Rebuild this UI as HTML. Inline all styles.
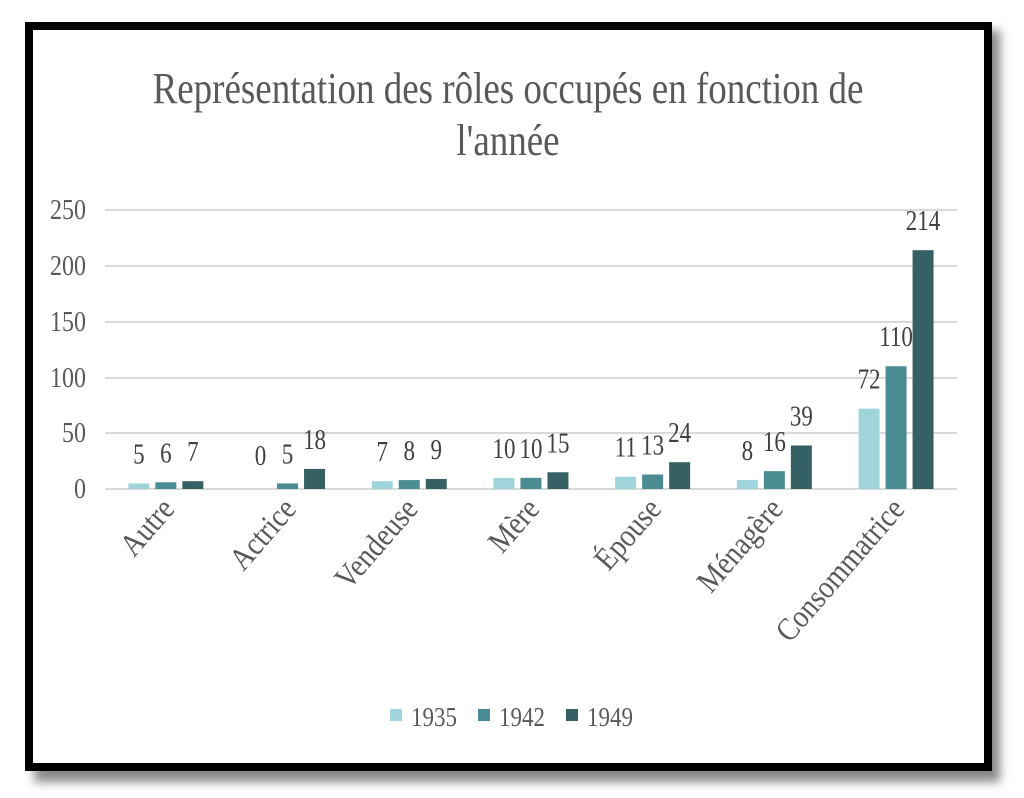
<!DOCTYPE html>
<html><head><meta charset="utf-8"><style>
html,body{margin:0;padding:0;background:#fff;}
svg{display:block;}
text{font-family:"Liberation Serif",serif;}
</style></head><body>
<svg width="1024" height="798" viewBox="0 0 1024 798" xmlns="http://www.w3.org/2000/svg">
<defs><filter id="sh" x="-5%" y="-5%" width="110%" height="115%"><feGaussianBlur stdDeviation="5"/></filter></defs>
<rect x="34" y="30" width="966" height="752" fill="#888" filter="url(#sh)"/>
<rect x="29" y="26" width="959" height="741" fill="#fff" stroke="#000" stroke-width="8"/>
<text transform="translate(508,103) scale(1,1.2)" font-size="37" fill="#595959" text-anchor="middle">Représentation des rôles occupés en fonction de</text>
<text transform="translate(508,155) scale(1,1.2)" font-size="37" fill="#595959" text-anchor="middle">l'année</text>
<g stroke="#d9d9d9" stroke-width="2">
<line x1="105" x2="957" y1="210" y2="210"/><line x1="105" x2="957" y1="266" y2="266"/>
<line x1="105" x2="957" y1="322" y2="322"/><line x1="105" x2="957" y1="378" y2="378"/>
<line x1="105" x2="957" y1="433" y2="433"/><line x1="105" x2="957" y1="489" y2="489"/>
</g>
<g font-size="24" fill="#595959" text-anchor="end">
<text transform="translate(86,219) scale(1,1.2)">250</text><text transform="translate(86,275) scale(1,1.2)">200</text><text transform="translate(86,331) scale(1,1.2)">150</text>
<text transform="translate(86,387) scale(1,1.2)">100</text><text transform="translate(86,442) scale(1,1.2)">50</text><text transform="translate(86,498) scale(1,1.2)">0</text>
</g>
<g id="bars"></g>
<g font-size="23" fill="#404040" text-anchor="middle" id="lbl"></g>
<g font-size="28" fill="#595959" text-anchor="end" id="xl"></g>
<rect x="390" y="709" width="12" height="12" fill="#9fd4db"/>
<text transform="translate(411,726) scale(1,1.2)" font-size="23" fill="#595959">1935</text>
<rect x="478" y="709" width="12" height="12" fill="#4a8c92"/>
<text transform="translate(499,726) scale(1,1.2)" font-size="23" fill="#595959">1942</text>
<rect x="566" y="709" width="12" height="12" fill="#356064"/>
<text transform="translate(587,726) scale(1,1.2)" font-size="23" fill="#595959">1949</text>
<script>
var data=[["Autre",[5,6,7]],["Actrice",[0,5,18]],["Vendeuse",[7,8,9]],["Mère",[10,10,15]],["Épouse",[11,13,24]],["Ménagère",[8,16,39]],["Consommatrice",[72,110,214]]];
var cols=["#9fd4db","#4a8c92","#356064"],ns="http://www.w3.org/2000/svg";
var B=document.getElementById("bars"),L=document.getElementById("lbl"),X=document.getElementById("xl");
data.forEach(function(d,i){var c=105+(i+0.5)*121.7;
d[1].forEach(function(v,j){var x=c-37.5+j*27,h=v*1.116;
var r=document.createElementNS(ns,"rect");r.setAttribute("x",x);r.setAttribute("y",489-h);r.setAttribute("width",21);r.setAttribute("height",h);r.setAttribute("fill",cols[j]);B.appendChild(r);
var t=document.createElementNS(ns,"text");t.setAttribute("transform","translate("+(x+10.5)+","+(489-Math.max(h,4)-20)+") scale(1,1.25)");t.textContent=v;L.appendChild(t);});
var t=document.createElementNS(ns,"text");t.setAttribute("transform","translate("+(c+10)+",510) rotate(-49) scale(1,1.15)");t.textContent=d[0];X.appendChild(t);});
</script>
</svg>
</body></html>
